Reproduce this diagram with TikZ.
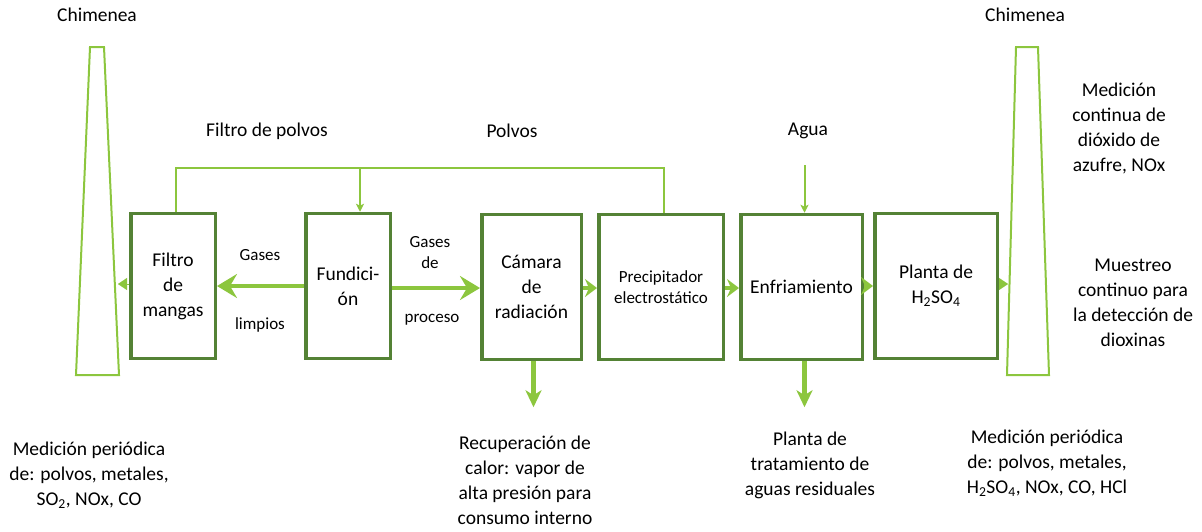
\documentclass[tikz,border=0pt]{standalone}
\usepackage{fontspec}
\setmainfont{Carlito}
\usetikzlibrary{arrows.meta}
\definecolor{dkgreen}{HTML}{548235}
\definecolor{ltgreen}{HTML}{8CC63E}
\tikzset{
  box/.style={draw=dkgreen, line width=3.5pt, minimum height=145pt, inner sep=0pt, align=center, font=\fontsize{19.5}{25}\selectfont},
  lbl/.style={align=center, inner sep=0pt, font=\fontsize{19.5}{25}\selectfont},
  slbl/.style={align=center, inner sep=0pt, font=\fontsize{17}{21}\selectfont},
  chim/.style={draw=ltgreen, line width=2pt},
  thinln/.style={draw=ltgreen, line width=2pt},
  thinarr/.style={thinln, -{Stealth[length=8pt,width=8pt,inset=2pt]}},
  thickarr/.style={draw=ltgreen, line width=4.5pt, -{Stealth[length=20pt,width=24pt,inset=7pt]}},
  gaparr/.style={draw=ltgreen, line width=4.5pt, -{Stealth[length=12pt,width=18pt,inset=4pt]}},
  downarr/.style={draw=ltgreen, line width=4.5pt, -{Stealth[length=17pt,width=16pt,inset=5pt]}},
  tiparr/.style={draw=ltgreen, line width=0.1pt, -{Triangle[length=9pt,width=12pt]}}
}
\begin{document}
\begin{tikzpicture}[x=1pt,y=-1pt]
\useasboundingbox (0,0) rectangle (1202,531);
% chimneys
\draw[chim] (90,47) -- (104,47) -- (119,375) -- (76,375) -- cycle;
\draw[chim] (1016,47) -- (1038,47) -- (1049,375) -- (1007,375) -- cycle;
\coordinate (chL) at (118,286);
\coordinate (chR) at (1008,286);
% boxes
\node[box, minimum width=84.5pt] (filtro) at (173,286) {Filtro\\de\\mangas};
\node[box, minimum width=84.5pt] (fund) at (348,286) {Fundici-\\ón};
\node[box, minimum width=99.5pt] (camara) at (531.5,287) {Cámara\\de\\radiación};
\node[box, minimum width=124.5pt, font=\fontsize{17}{21}\selectfont] (precip) at (661,287) {Precipitador\\electrostático};
\node[box, minimum width=121.5pt] (enfr) at (801.5,287) {Enfriamiento};
\node[box, minimum width=122.5pt] (planta) at (936,286) {Planta de\\H\textsubscript{2}SO\textsubscript{4}};
% top connector
\draw[thinln] ([xshift=3pt]filtro.north) -- ++(0,-44) -| ([xshift=3pt]precip.north);
\coordinate (topF) at ([xshift=12pt]fund.north |- 0,168);
\draw[thinarr] (topF) -- ([xshift=12pt]fund.north);
\coordinate (agua) at ([xshift=3pt]enfr.north |- 0,165);
\draw[thinarr] (agua) -- ([xshift=3pt]enfr.north);
% main flow
\draw[thickarr] (fund.west |- 0,286) -- (filtro.east |- 0,286);
\draw[thickarr] (fund.east |- 0,288) -- (camara.west |- 0,288);
\draw[gaparr] (camara.east |- 0,288) -- (precip.west |- 0,288);
\draw[gaparr] (precip.east |- 0,288) -- (enfr.west |- 0,288);
\draw[gaparr] (enfr.east |- 0,286) -- (planta.west |- 0,286);
\draw[tiparr] (filtro.west |- 0,284) -- (chL |- 0,284);
\draw[tiparr] (planta.east |- 0,284) -- (chR |- 0,284);
% down arrows
\draw[downarr] ([xshift=2pt]camara.south) -- ++(0,46);
\draw[downarr] ([xshift=3pt]enfr.south) -- ++(0,46);
% labels
\node[lbl] (c1) at (97,15) {Chimenea};
\node[lbl] (c2) at (1025,15) {Chimenea};
\node[lbl] (fp) at (267,131) {Filtro de polvos};
\node[lbl] (pv) at (512,131) {Polvos};
\node[lbl] (ag) at (808,131) {Agua};
\node[slbl] (g1) at (260,255) {Gases};
\node[slbl] (g2) at (260,325) {limpios};
\node[slbl] (g3) at (430,253) {Gases\\de};
\node[slbl] (g4) at (432,320) {proceso};
\node[lbl] (r1) at (1119,128) {Medición\\continua de\\dióxido de\\azufre, NOx};
\node[lbl] (r2) at (1133,303) {Muestreo\\continuo para\\la detección de\\dioxinas};
\node[lbl] (b1) at (89,475) {Medición periódica\\de: polvos, metales,\\SO\textsubscript{2}, NOx, CO};
\node[lbl] (b2) at (525,480) {Recuperación de\\calor: vapor de\\alta presión para\\consumo interno};
\node[lbl] (b3) at (810,465) {Planta de\\tratamiento de\\aguas residuales};
\node[lbl] (b4) at (1047,463) {Medición periódica\\de: polvos, metales,\\H\textsubscript{2}SO\textsubscript{4}, NOx, CO, HCl};
\end{tikzpicture}
\end{document}
